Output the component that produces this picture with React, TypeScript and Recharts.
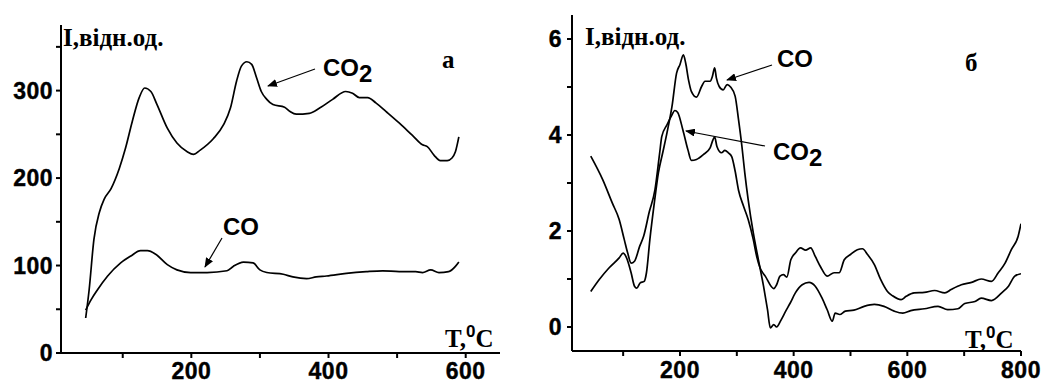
import React from 'react'
import { LineChart, Line, XAxis, YAxis } from 'recharts'

// panel a: temperature (°C) and intensity
const leftCO2T = [46, 51, 58, 66, 73, 83, 95, 104, 114, 124, 132, 141, 150, 165, 179, 194, 203, 213, 232, 247, 257, 266, 273, 281, 288, 295, 302, 310, 319, 336, 344, 353, 372, 387, 406, 425, 435, 445, 457, 469, 484, 503, 522, 537, 544, 554, 563, 573, 580, 585, 590]
const leftCO2I = [40, 72, 130, 161, 176, 188, 211, 234, 265, 292, 303, 299, 284, 257, 240, 230, 227, 232, 245, 261, 280, 311, 328, 333, 330, 315, 299, 290, 284, 281, 276, 273, 274, 280, 290, 299, 297, 292, 292, 286, 276, 263, 249, 238, 236, 226, 220, 220, 223, 230, 247]
const leftCOT = [46, 54, 63, 78, 97, 112, 126, 136, 148, 165, 179, 199, 223, 252, 261, 276, 290, 300, 310, 334, 348, 368, 382, 397, 426, 455, 479, 503, 527, 537, 549, 561, 575, 585, 590]
const leftCOI = [49, 61, 72, 88, 103, 111, 117, 117, 113, 101, 95, 92, 92, 94, 99, 104, 103, 95, 92, 90, 87, 85, 87, 88, 91, 93, 94, 93, 93, 92, 95, 92, 93, 99, 104]

// panel б
const rightCOT = [43, 58, 75, 93, 100, 106, 114, 120, 124, 130, 137, 141, 147, 155, 162, 170, 177, 186, 194, 200, 206, 210, 215, 220, 229, 238, 244, 253, 257, 261, 264, 269, 276, 283, 289, 297, 303, 309, 314, 320, 329, 338, 347, 354, 359, 365, 370, 378, 386, 394, 403, 415, 427, 438, 450, 459, 468, 473, 481, 491, 506, 524, 542, 559, 577, 592, 606, 630, 654, 671, 689, 701, 719, 730, 748, 766, 778, 789, 800]
const rightCOI = [0.74, 0.99, 1.23, 1.44, 1.54, 1.44, 1.13, 0.85, 0.81, 0.92, 0.95, 1.13, 1.82, 2.6, 3.21, 3.65, 4.04, 4.6, 5.29, 5.47, 5.67, 5.5, 5.15, 4.91, 4.79, 5.01, 5.12, 5.12, 5.22, 5.4, 5.19, 5.01, 4.94, 5.05, 5.0, 4.81, 4.32, 3.76, 3.21, 2.65, 1.96, 1.4, 0.85, 0.36, -0.02, 0.05, 0, 0.15, 0.33, 0.5, 0.71, 0.88, 0.93, 0.85, 0.6, 0.36, 0.12, 0.29, 0.26, 0.33, 0.35, 0.43, 0.47, 0.43, 0.33, 0.29, 0.34, 0.38, 0.43, 0.36, 0.38, 0.49, 0.53, 0.6, 0.55, 0.71, 0.85, 1.06, 1.11]
const rightCO2T = [43, 64, 81, 93, 102, 108, 114, 120, 129, 136, 146, 156, 164, 168, 177, 185, 191, 196, 205, 214, 220, 229, 241, 253, 258, 261, 265, 273, 279, 285, 291, 297, 303, 312, 320, 329, 335, 341, 350, 365, 370, 376, 382, 388, 395, 403, 412, 421, 430, 438, 447, 459, 471, 480, 489, 500, 512, 521, 530, 542, 553, 565, 574, 589, 598, 612, 630, 648, 666, 677, 695, 713, 730, 748, 760, 772, 783, 795, 800]
const rightCO2I = [3.56, 3.07, 2.58, 2.24, 1.82, 1.54, 1.33, 1.37, 1.68, 1.89, 2.4, 2.86, 3.6, 3.97, 4.21, 4.4, 4.51, 4.47, 4.11, 3.69, 3.47, 3.49, 3.59, 3.73, 3.9, 3.96, 3.76, 3.63, 3.68, 3.63, 3.55, 3.25, 2.85, 2.51, 2.24, 1.82, 1.47, 1.23, 1.06, 0.8, 0.88, 1.06, 1.09, 1.04, 1.4, 1.54, 1.65, 1.6, 1.65, 1.47, 1.26, 1.06, 1.13, 1.13, 1.4, 1.51, 1.61, 1.63, 1.51, 1.3, 0.99, 0.74, 0.65, 0.57, 0.64, 0.71, 0.72, 0.76, 0.71, 0.78, 0.88, 0.93, 1.0, 0.95, 1.13, 1.33, 1.61, 1.89, 2.15]

const leftXTicks = [100, 200, 300, 400, 500, 600]
const leftXLabels = [200, 400, 600]
const leftYTicks = [0, 50, 100, 150, 200, 250, 300, 350]
const leftYLabels = [0, 100, 200, 300]
const rightXTicks = [100, 200, 300, 400, 500, 600, 700, 800]
const rightXLabels = [200, 400, 600, 800]
const rightYTicks = [0, 1, 2, 3, 4, 5, 6]
const rightYLabels = [0, 2, 4, 6]

const SANS = '"Liberation Sans", Arial, sans-serif'
const SERIF = '"Liberation Serif", "Times New Roman", serif'

const zip = (t: number[], v: number[]) => t.map((x, i) => ({ t: x, v: v[i] }))

const axisStyle = { stroke: '#000', strokeWidth: 2 }

function makeTick(labels: number[], side: 'x' | 'y', dy = 8) {
  return (props: any) => {
    const { x, y, payload } = props
    if (!labels.includes(payload.value)) return <g />
    const common = {
      fontFamily: SANS,
      fontWeight: 'bold' as const,
      fontSize: 23,
      letterSpacing: 0.5,
      fill: '#000',
      stroke: '#000',
      strokeWidth: 0.4,
    }
    return (
      <text x={x} y={y + dy} textAnchor={side === 'x' ? 'middle' : 'end'} {...common}>
        {payload.value}
      </text>
    )
  }
}

function TLabel({ x, y }: { x: number; y: number }) {
  return (
    <text x={x} y={y} fontFamily={SERIF} fontWeight="bold" fontSize={25} fill="#000">
      T,
      <tspan fontFamily={SANS} fontSize={17} dy={-10}>0</tspan>
      <tspan dy={10}>C</tspan>
    </text>
  )
}

function CO({ x, y, sub }: { x: number; y: number; sub?: boolean }) {
  return (
    <text x={x} y={y} fontFamily={SANS} fontWeight="bold" fontSize={24} fill="#000">
      CO
      {sub && <tspan dy={6}>2</tspan>}
    </text>
  )
}

function Arrow({ x1, y1, x2, y2 }: { x1: number; y1: number; x2: number; y2: number }) {
  return <line x1={x1} y1={y1} x2={x2} y2={y2} stroke="#000" strokeWidth={1.2} markerEnd="url(#ah)" />
}

export default function App() {
  return (
    <div style={{ position: 'absolute', left: 0, top: 0, width: 1046, height: 383, background: '#fff' }}>
      <div style={{ position: 'absolute', left: 0, top: 0 }}>
        <LineChart width={520} height={383} margin={{ top: 25, right: 20, bottom: 0, left: 0 }}>
          <XAxis
            type="number"
            dataKey="t"
            domain={[10, 650]}
            ticks={leftXTicks}
            allowDataOverflow
            height={30}
            tickSize={5}
            tickMargin={2}
            axisLine={axisStyle}
            tickLine={axisStyle}
            tick={makeTick(leftXLabels, 'x', 19)}
          />
          <YAxis
            type="number"
            domain={[0, 375]}
            ticks={leftYTicks}
            allowDataOverflow
            width={61}
            tickSize={5}
            tickMargin={3}
            axisLine={axisStyle}
            tickLine={axisStyle}
            tick={makeTick(leftYLabels, 'y')}
          />
          <Line data={zip(leftCO2T, leftCO2I)} dataKey="v" type="monotone" stroke="#000" strokeWidth={1.7} dot={false} isAnimationActive={false} />
          <Line data={zip(leftCOT, leftCOI)} dataKey="v" type="monotone" stroke="#000" strokeWidth={1.7} dot={false} isAnimationActive={false} />
        </LineChart>
      </div>
      <div style={{ position: 'absolute', left: 520, top: 0 }}>
        <LineChart width={526} height={383} margin={{ top: 15, right: 25, bottom: 0, left: 0 }}>
          <XAxis
            type="number"
            dataKey="t"
            domain={[10, 800]}
            ticks={rightXTicks}
            allowDataOverflow
            height={32}
            tickSize={5}
            tickMargin={2}
            axisLine={axisStyle}
            tickLine={axisStyle}
            tick={makeTick(rightXLabels, 'x', 20)}
          />
          <YAxis
            type="number"
            domain={[-0.5, 6.5]}
            ticks={rightYTicks}
            allowDataOverflow
            width={52}
            tickSize={5}
            tickMargin={5}
            axisLine={axisStyle}
            tickLine={axisStyle}
            tick={makeTick(rightYLabels, 'y')}
          />
          <Line data={zip(rightCOT, rightCOI)} dataKey="v" type="monotone" stroke="#000" strokeWidth={1.7} dot={false} isAnimationActive={false} />
          <Line data={zip(rightCO2T, rightCO2I)} dataKey="v" type="monotone" stroke="#000" strokeWidth={1.7} dot={false} isAnimationActive={false} />
        </LineChart>
      </div>
      <svg width={1046} height={383} style={{ position: 'absolute', left: 0, top: 0, pointerEvents: 'none' }}>
        <defs>
          <marker id="ah" markerUnits="userSpaceOnUse" markerWidth={10} markerHeight={8} refX={9} refY={4} orient="auto">
            <path d="M0,0 L10,4 L0,8 Z" fill="#000" />
          </marker>
        </defs>
        {/* panel a */}
        <text x={63} y={46} fontFamily={SERIF} fontWeight="bold" fontSize={25} fill="#000">I,відн.од.</text>
        <CO x={323} y={76} sub />
        <Arrow x1={315} y1={69} x2={268} y2={86} />
        <text x={442} y={68} fontFamily={SERIF} fontWeight="bold" fontSize={25} fill="#000">а</text>
        <CO x={223} y={235} />
        <Arrow x1={222} y1={238} x2={205} y2={267} />
        <TLabel x={445} y={347} />
        {/* panel б */}
        <text x={585} y={45} fontFamily={SERIF} fontWeight="bold" fontSize={25} fill="#000">I,відн.од.</text>
        <CO x={777} y={67} />
        <Arrow x1={772} y1={65} x2={727} y2={80} />
        <text x={965} y={71} fontFamily={SERIF} fontWeight="bold" fontSize={25} fill="#000">б</text>
        <CO x={773} y={160} sub />
        <Arrow x1={765} y1={146} x2={686} y2={131} />
        <TLabel x={965} y={348} />
      </svg>
    </div>
  )
}
